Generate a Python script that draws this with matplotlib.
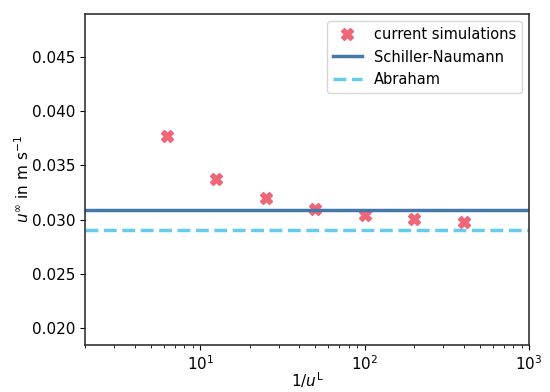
import matplotlib
matplotlib.use("Agg")
import matplotlib.pyplot as plt

inv_uL = [6.25, 12.5, 25, 50, 100, 200, 400]
u_inf = [0.03773, 0.03375, 0.0320, 0.0310, 0.03043, 0.03006, 0.02978]
schiller_naumann = 0.03089
abraham = 0.02901

plt.rcParams["font.size"] = 11

fig, ax = plt.subplots(figsize=(5.5, 3.92), dpi=100)
ax.plot(inv_uL, u_inf, "X", color="#EE6677", markersize=8, linestyle="none",
        label="current simulations")
ax.axhline(schiller_naumann, color="#4477AA", lw=2.5, label="Schiller-Naumann")
ax.axhline(abraham, color="#66CCEE", lw=2.5, ls="--", label="Abraham")

ax.set_xscale("log")
ax.set_xlim(2, 1000)
ax.set_ylim(0.0184, 0.0490)
ax.set_yticks([0.020, 0.025, 0.030, 0.035, 0.040, 0.045])
ax.set_xlabel(r"$1/u^{\mathrm{L}}$", labelpad=-2)
ax.set_ylabel(r"$u^{\infty}$ in m s$^{-1}$", labelpad=0)
ax.legend(loc="upper right", fontsize=10.5)
for s in ax.spines.values():
    s.set_color("#333333")
    s.set_linewidth(1.2)

fig.subplots_adjust(left=0.155, right=0.962, top=0.964, bottom=0.12)
fig.savefig("out.png", dpi=100)
